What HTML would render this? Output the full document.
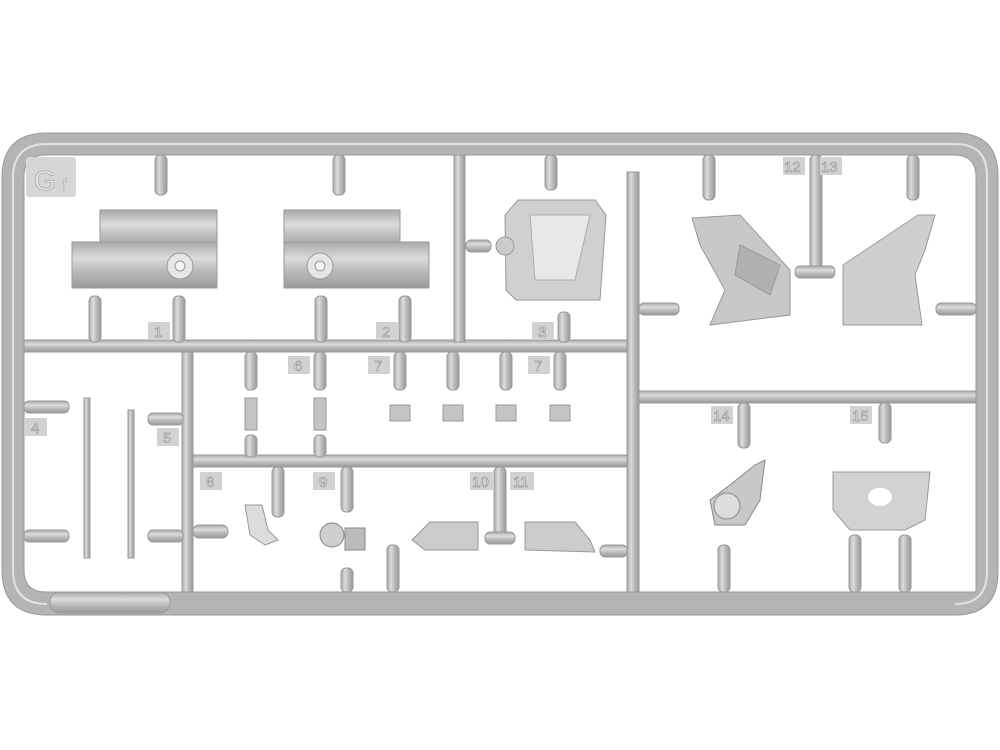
<!DOCTYPE html>
<html><head><meta charset="utf-8"><style>
html,body{margin:0;padding:0;background:#fff;width:1000px;height:750px;overflow:hidden}
svg{display:block}
text{font-family:"Liberation Sans",sans-serif;fill:#eee}
</style></head><body>
<svg width="1000" height="750" viewBox="0 0 1000 750">
<defs>
<linearGradient id="h" x1="0" y1="0" x2="0" y2="1"><stop offset="0" stop-color="#a9a9a9"/><stop offset=".35" stop-color="#dcdcdc"/><stop offset=".6" stop-color="#bdbdbd"/><stop offset="1" stop-color="#999"/></linearGradient>
<linearGradient id="v" x1="0" y1="0" x2="1" y2="0"><stop offset="0" stop-color="#a9a9a9"/><stop offset=".35" stop-color="#dcdcdc"/><stop offset=".6" stop-color="#bdbdbd"/><stop offset="1" stop-color="#999"/></linearGradient>
</defs>
<!-- outer frame -->
<path d="M47,615 Q2,615 2,570 L2,178 Q2,133 47,133 L955,133 Q998,133 998,176 L998,572 Q998,615 955,615 Z M46,592 L976,592 L976,177 Q976,155 954,155 L46,155 Q24,155 24,177 L24,570 Q24,592 46,592 Z" fill="#b4b4b4" fill-rule="evenodd" stroke="#999" stroke-width="1"/>
<path d="M47,604 Q13,604 13,570 L13,178 Q13,144 47,144 L955,144 Q987,144 987,176 L987,572 Q987,604 955,604" fill="none" stroke="#e2e2e2" stroke-width="2"/>
<rect x="50" y="592" width="120" height="21" rx="10" fill="url(#h)" stroke="#999"/>
<!-- Gf -->
<rect x="26" y="157" width="50" height="40" rx="3" fill="#d6d6d6"/>
<text x="34" y="190" font-size="28" fill="#f2f2f2" stroke="#aaa" stroke-width=".8">G</text><text x="62" y="190" font-size="16" fill="#eee" stroke="#aaa" stroke-width=".6">f</text>
<!-- internal runners -->
<g stroke="#999" stroke-width="1">
<rect x="24" y="340" width="612" height="12" fill="url(#h)"/>
<rect x="454" y="155" width="11" height="187" fill="url(#v)"/>
<rect x="627" y="172" width="12" height="420" fill="url(#v)"/>
<rect x="182" y="352" width="11" height="240" fill="url(#v)"/>
<rect x="193" y="455" width="434" height="12" fill="url(#h)"/>
<rect x="639" y="391" width="337" height="12" fill="url(#h)"/>
</g>
<g fill="url(#v)" stroke="#999">
<rect x="155" y="155" width="12" height="40" rx="5"/><rect x="333" y="155" width="12" height="40" rx="5"/>
<rect x="545" y="155" width="12" height="35" rx="5"/>
<rect x="89" y="296" width="12" height="46" rx="5"/><rect x="173" y="296" width="12" height="46" rx="5"/>
<rect x="315" y="296" width="12" height="46" rx="5"/><rect x="399" y="296" width="12" height="46" rx="5"/>
<rect x="558" y="312" width="12" height="30" rx="5"/>
<rect x="703" y="155" width="12" height="45" rx="5"/><rect x="810" y="155" width="12" height="115" rx="5"/><rect x="907" y="155" width="12" height="45" rx="5"/>
<rect x="245" y="352" width="12" height="38" rx="5"/><rect x="314" y="352" width="12" height="38" rx="5"/>
<rect x="394" y="352" width="12" height="38" rx="5"/><rect x="447" y="352" width="12" height="38" rx="5"/><rect x="500" y="352" width="12" height="38" rx="5"/><rect x="554" y="352" width="12" height="38" rx="5"/>
<rect x="245" y="435" width="12" height="22" rx="5"/><rect x="314" y="435" width="12" height="22" rx="5"/>
<rect x="272" y="467" width="12" height="50" rx="5"/><rect x="341" y="467" width="12" height="45" rx="5"/>
<rect x="494" y="467" width="12" height="70" rx="5"/>
<rect x="341" y="568" width="12" height="24" rx="5"/><rect x="387" y="545" width="12" height="47" rx="5"/>
<rect x="738" y="403" width="12" height="45" rx="5"/><rect x="879" y="403" width="12" height="40" rx="5"/>
<rect x="718" y="545" width="12" height="47" rx="5"/><rect x="849" y="535" width="12" height="57" rx="5"/><rect x="899" y="535" width="12" height="57" rx="5"/>
</g>
<g fill="url(#h)" stroke="#999">
<rect x="24" y="401" width="45" height="12" rx="5"/><rect x="24" y="530" width="45" height="12" rx="5"/>
<rect x="148" y="413" width="35" height="12" rx="5"/><rect x="148" y="530" width="35" height="12" rx="5"/>
<rect x="466" y="240" width="25" height="12" rx="5"/>
<rect x="639" y="303" width="40" height="12" rx="5"/><rect x="936" y="303" width="40" height="12" rx="5"/>
<rect x="795" y="266" width="40" height="12" rx="5"/>
<rect x="193" y="525" width="35" height="13" rx="6"/><rect x="600" y="545" width="27" height="12" rx="5"/>
<rect x="485" y="532" width="30" height="12" rx="5"/>
</g>
<rect x="84" y="398" width="6" height="160" fill="url(#v)" stroke="#999"/>
<rect x="128" y="410" width="6" height="148" fill="url(#v)" stroke="#999"/>
<g stroke="#999" fill="url(#h)">
<rect x="100" y="210" width="117" height="42"/><rect x="72" y="242" width="145" height="46"/>
<rect x="284" y="210" width="116" height="42"/><rect x="284" y="242" width="145" height="46"/>
</g>
<circle cx="180" cy="266" r="13" fill="#e6e6e6" stroke="#999"/><circle cx="180" cy="266" r="5" fill="#f5f5f5" stroke="#999"/>
<circle cx="320" cy="266" r="13" fill="#e6e6e6" stroke="#999"/><circle cx="320" cy="266" r="5" fill="#f5f5f5" stroke="#999"/>
<path d="M518,200 L595,200 L606,215 L600,300 L516,300 L506,290 L505,215 Z" fill="#d0d0d0" stroke="#999"/>
<path d="M530,215 L590,215 L575,280 L535,280 Z" fill="#e8e8e8" stroke="#aaa"/>
<circle cx="505" cy="246" r="9" fill="#ccc" stroke="#999"/>
<path d="M692,218 L740,215 L790,270 L790,315 L710,325 L725,290 L700,245 Z" fill="#c8c8c8" stroke="#999"/>
<path d="M740,245 L780,265 L770,295 L735,275 Z" fill="#b0b0b0" stroke="#999"/>
<path d="M918,215 L935,215 L925,250 L915,275 L922,325 L843,325 L843,265 Z" fill="#cfcfcf" stroke="#999"/>
<g fill="#c4c4c4" stroke="#999">
<rect x="245" y="398" width="12" height="32"/><rect x="314" y="398" width="12" height="32"/>
<rect x="390" y="405" width="20" height="16"/><rect x="443" y="405" width="20" height="16"/><rect x="496" y="405" width="20" height="16"/><rect x="550" y="405" width="20" height="16"/>
</g>
<path d="M245,505 L262,505 L268,530 L278,540 L265,545 L250,535 Z" fill="#dcdcdc" stroke="#999"/>
<circle cx="332" cy="535" r="12" fill="#cfcfcf" stroke="#888"/><rect x="345" y="528" width="20" height="22" fill="#bbb" stroke="#888"/>
<path d="M412,540 L430,522 L478,522 L478,550 L425,550 Z" fill="#ccc" stroke="#999"/>
<path d="M525,522 L575,522 L590,540 L595,552 L525,550 Z" fill="#ccc" stroke="#999"/>
<path d="M730,485 L755,465 L765,460 L760,500 L745,525 L715,525 L710,500 Z" fill="#c8c8c8" stroke="#888"/>
<circle cx="727" cy="506" r="13" fill="#ddd" stroke="#888"/>
<path d="M833,472 L930,472 L925,520 L905,530 L850,530 L833,510 Z" fill="#d2d2d2" stroke="#999"/>
<ellipse cx="880" cy="497" rx="12" ry="9" fill="#fff"/>
<g fill="#d2d2d2">
<rect x="148" y="322" width="22" height="18"/><rect x="376" y="322" width="22" height="18"/><rect x="532" y="322" width="22" height="18"/>
<rect x="783" y="157" width="22" height="18"/><rect x="820" y="157" width="22" height="18"/>
<rect x="25" y="418" width="22" height="18"/><rect x="157" y="428" width="22" height="18"/>
<rect x="288" y="356" width="22" height="18"/><rect x="368" y="356" width="22" height="18"/><rect x="528" y="356" width="22" height="18"/>
<rect x="200" y="472" width="22" height="18"/><rect x="313" y="472" width="22" height="18"/><rect x="470" y="472" width="24" height="18"/><rect x="510" y="472" width="24" height="18"/>
<rect x="711" y="406" width="22" height="18"/><rect x="850" y="406" width="22" height="18"/>
</g>
<g font-size="15" fill="#eee" stroke="#999" stroke-width=".7">
<text x="154" y="337">1</text><text x="382" y="337">2</text><text x="538" y="337">3</text>
<text x="784" y="172">12</text><text x="821" y="172">13</text>
<text x="31" y="433">4</text><text x="163" y="443">5</text>
<text x="294" y="371">6</text><text x="374" y="371">7</text><text x="534" y="371">7</text>
<text x="206" y="487">8</text><text x="319" y="487">9</text><text x="472" y="487">10</text><text x="513" y="487">11</text>
<text x="713" y="421">14</text><text x="852" y="421">15</text>
</g>
</svg>
</body></html>
